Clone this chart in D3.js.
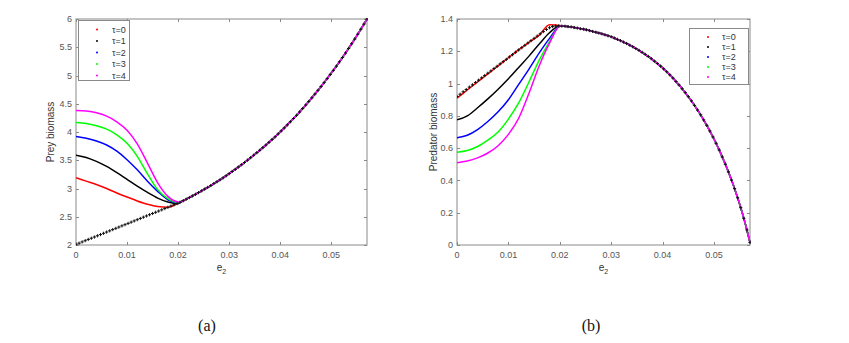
<!DOCTYPE html>
<html><head><meta charset="utf-8">
<script src="https://cdn.jsdelivr.net/npm/d3@7/dist/d3.min.js"></script>
<style>
body{margin:0;background:#fff}
</style>
</head><body>
<svg id="chart" width="849" height="343" font-family="Arial, 'Liberation Sans', sans-serif"></svg>
<script>
// ---------------- data ----------------
const tauLabels = ["\u03c4=0","\u03c4=1","\u03c4=2","\u03c4=3","\u03c4=4"];
const tauColors = ["#ff0000","#000000","#0000ff","#00ff00","#ff00ff"];
const eTicks = [0,0.01,0.02,0.03,0.04,0.05];
const eTickLabels = ["0","0.01","0.02","0.03","0.04","0.05"];
const preyTicks = [2,2.5,3,3.5,4,4.5,5,5.5,6];
const predTicks = [0,0.2,0.4,0.6,0.8,1,1.2,1.4];
const eDomain = [0,0.057];

// transient part of each tau curve (e = 0 ... 0.02)
const eHead = [0,0.002,0.004,0.006,0.008,0.010,0.012,0.014,0.016,0.018,0.020];
const preyTau0 = [3.19,3.13,3.07,3.00,2.92,2.85,2.78,2.72,2.68,2.67,2.74];
const preyTau1 = [3.59,3.55,3.48,3.39,3.28,3.16,3.04,2.93,2.83,2.76,2.73];
const preyTau2 = [3.92,3.89,3.84,3.77,3.66,3.51,3.33,3.13,2.95,2.80,2.745];
const preyTau3 = [4.17,4.15,4.11,4.05,3.95,3.80,3.57,3.26,2.98,2.82,2.75];
const preyTau4 = [4.38,4.37,4.34,4.28,4.18,4.03,3.79,3.45,3.10,2.86,2.76];
const predTau0 = [0.91,0.96,1.01,1.06,1.11,1.16,1.21,1.255,1.30,1.365,1.36];
const predTau1 = [0.775,0.80,0.85,0.905,0.965,1.03,1.10,1.17,1.245,1.315,1.357];
const predTau2 = [0.665,0.68,0.715,0.765,0.825,0.90,0.995,1.09,1.19,1.28,1.355];
const predTau3 = [0.575,0.585,0.61,0.65,0.70,0.78,0.88,1.01,1.145,1.26,1.355];
const predTau4 = [0.51,0.52,0.54,0.57,0.615,0.685,0.785,0.94,1.11,1.25,1.355];

// equilibrium branch (black "+" markers), sampled every 0.0006 in e
const eStep = 0.0006;
const preyBase = [2.010,2.032,2.054,2.076,2.098,2.120,2.141,2.163,2.185,2.207,
2.229,2.251,2.273,2.295,2.317,2.339,2.360,2.382,2.404,2.426,
2.448,2.470,2.492,2.514,2.536,2.558,2.579,2.601,2.623,2.645,
2.667,2.689,2.711,2.733,2.757,2.784,2.811,2.839,2.868,2.897,
2.927,2.957,2.989,3.020,3.052,3.086,3.119,3.153,3.189,3.225,
3.263,3.302,3.340,3.380,3.420,3.460,3.502,3.545,3.589,3.632,
3.677,3.723,3.770,3.817,3.866,3.915,3.966,4.019,4.072,4.126,
4.181,4.239,4.296,4.355,4.416,4.478,4.541,4.605,4.671,4.737,
4.805,4.874,4.945,5.017,5.090,5.165,5.241,5.319,5.398,5.479,
5.562,5.646,5.732,5.819,5.909,6.000];
const predBase = [0.920,0.934,0.949,0.963,0.978,0.992,1.006,1.021,1.035,1.050,
1.064,1.078,1.093,1.107,1.122,1.136,1.150,1.165,1.179,1.194,
1.208,1.222,1.237,1.251,1.266,1.280,1.294,1.308,1.322,1.335,
1.346,1.353,1.357,1.357,1.356,1.355,1.353,1.351,1.347,1.344,
1.340,1.337,1.333,1.328,1.323,1.318,1.313,1.308,1.302,1.296,
1.290,1.282,1.274,1.266,1.257,1.248,1.238,1.228,1.217,1.206,
1.194,1.181,1.168,1.154,1.139,1.124,1.108,1.091,1.073,1.054,
1.034,1.013,0.991,0.968,0.944,0.919,0.893,0.865,0.836,0.806,
0.774,0.741,0.706,0.669,0.630,0.589,0.546,0.501,0.453,0.402,
0.349,0.292,0.231,0.165,0.093,0.015];

// ---------------- drawing ----------------
const svg = d3.select("#chart");
const axisCol = "#8a8a8a", textCol = "#555";

function panel(cfg){
  const x = d3.scaleLinear().domain(eDomain).range([cfg.x0, cfg.x1]);
  const y = d3.scaleLinear().domain(cfg.yDomain).range([cfg.y1, cfg.y0]);
  const g = svg.append("g");
  const tl = 3;
  g.append("rect").attr("x",cfg.x0).attr("y",cfg.y0)
    .attr("width",cfg.x1-cfg.x0).attr("height",cfg.y1-cfg.y0)
    .attr("fill","none").attr("stroke",axisCol).attr("stroke-width",1);
  eTicks.forEach((t,i)=>{
    const px = Math.round(x(t))+0.5;
    g.append("line").attr("x1",px).attr("x2",px).attr("y1",cfg.y1).attr("y2",cfg.y1-tl).attr("stroke",axisCol);
    g.append("line").attr("x1",px).attr("x2",px).attr("y1",cfg.y0).attr("y2",cfg.y0+tl).attr("stroke",axisCol);
    g.append("text").attr("x",x(t)).attr("y",cfg.y1+13).attr("text-anchor","middle")
      .attr("font-size",9).attr("fill",textCol).text(eTickLabels[i]);
  });
  cfg.yTicks.forEach(t=>{
    const py = Math.round(y(t))+0.5;
    g.append("line").attr("x1",cfg.x0).attr("x2",cfg.x0+tl).attr("y1",py).attr("y2",py).attr("stroke",axisCol);
    g.append("line").attr("x1",cfg.x1).attr("x2",cfg.x1-tl).attr("y1",py).attr("y2",py).attr("stroke",axisCol);
    g.append("text").attr("x",cfg.x0-4).attr("y",y(t)+3.2).attr("text-anchor","end")
      .attr("font-size",9).attr("fill",textCol).text(String(t));
  });
  g.append("text").attr("transform",`translate(${cfg.ylx},${(cfg.y0+cfg.y1)/2}) rotate(-90)`)
    .attr("text-anchor","middle").attr("font-size",10).attr("fill","#333").text(cfg.ylabel);
  const xl = g.append("text").attr("x",(cfg.x0+cfg.x1)/2).attr("y",cfg.y1+26)
    .attr("text-anchor","middle").attr("font-size",10).attr("fill","#333");
  xl.append("tspan").text("e");
  xl.append("tspan").attr("font-size",7).attr("dy",2.5).text("2");
  const cid = "clip"+cfg.id;
  svg.append("clipPath").attr("id",cid).append("rect")
    .attr("x",cfg.x0).attr("y",cfg.y0-1).attr("width",cfg.x1-cfg.x0+1).attr("height",cfg.y1-cfg.y0+2);
  const plot = g.append("g").attr("clip-path",`url(#${cid})`);
  const line = d3.line().x(d=>x(d[0])).y(d=>y(d[1])).curve(d3.curveMonotoneX);
  const basePts = cfg.base.map((v,i)=>[i*eStep, v]);
  const tail = basePts.filter(d=>d[0] > 0.0201);
  cfg.heads.forEach((h,k)=>{
    const pts = eHead.map((e,i)=>[e,h[i]]).concat(tail);
    plot.append("path").attr("d",line(pts)).attr("fill","none")
      .attr("stroke",tauColors[k]).attr("stroke-width",1.5);
  });
  plot.selectAll("path.mk").data(basePts).enter().append("path").attr("class","mk")
    .attr("d",d=>`M${x(d[0])-1.6},${y(d[1])}h3.2M${x(d[0])},${y(d[1])-1.6}v3.2`)
    .attr("stroke","#111").attr("stroke-width",1);
  const L = cfg.legend;
  g.append("rect").attr("x",L.x+0.5).attr("y",L.y+0.5).attr("width",L.w).attr("height",L.h)
    .attr("fill","#fff").attr("stroke",axisCol);
  tauLabels.forEach((lab,k)=>{
    const ry = L.r0 + k*L.dr;
    g.append("circle").attr("cx",L.mx).attr("cy",ry).attr("r",1).attr("fill",tauColors[k]);
    g.append("text").attr("x",L.tx).attr("y",ry+3).attr("font-size",9).attr("fill","#333").text(lab);
  });
}

panel({id:"a", x0:76, x1:367, y0:19, y1:245, yDomain:[2,6], yTicks:preyTicks,
  ylabel:"Prey biomass", ylx:54, base:preyBase,
  heads:[preyTau0,preyTau1,preyTau2,preyTau3,preyTau4],
  legend:{x:78,y:20,w:51,h:60,r0:29.5,dr:11.5,mx:97,tx:112}});
panel({id:"b", x0:457, x1:750, y0:19, y1:245, yDomain:[0,1.4], yTicks:predTicks,
  ylabel:"Predator biomass", ylx:437, base:predBase,
  heads:[predTau0,predTau1,predTau2,predTau3,predTau4],
  legend:{x:689,y:28,w:59,h:56,r0:37,dr:10,mx:708,tx:722}});

svg.append("text").attr("x",207).attr("y",331).attr("text-anchor","middle")
  .attr("font-family","'Liberation Serif','DejaVu Serif',serif").attr("font-size",16).attr("fill","#111").text("(a)");
svg.append("text").attr("x",591).attr("y",331).attr("text-anchor","middle")
  .attr("font-family","'Liberation Serif','DejaVu Serif',serif").attr("font-size",16).attr("fill","#111").text("(b)");
</script>
</body></html>
